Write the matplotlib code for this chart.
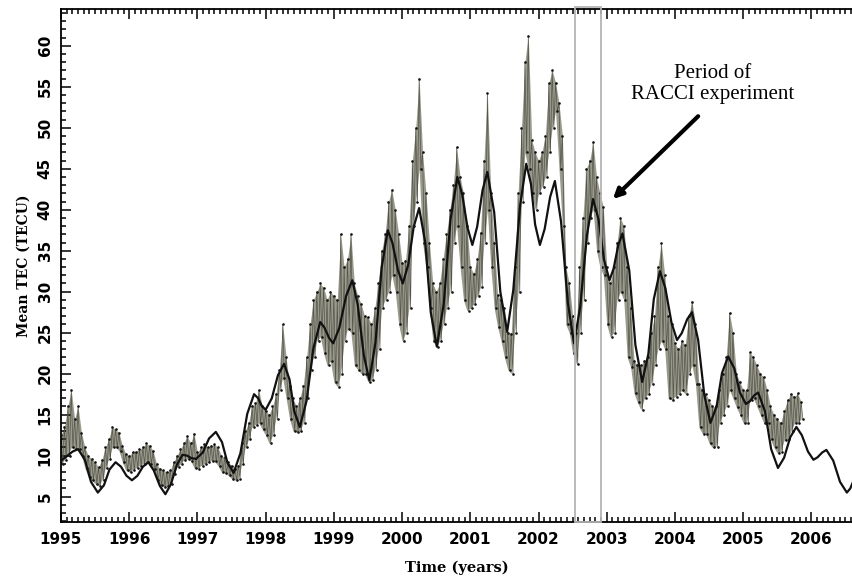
import numpy as np
import matplotlib
matplotlib.use('Agg')
import matplotlib.pyplot as plt
from matplotlib.patches import Rectangle
from matplotlib.ticker import MultipleLocator

# Observed daily mean TEC, read as an upper / lower envelope every 0.05 yr
obs_start = 1995.0
obs_step = 0.05
tec_upper = [
    12.5, 13.5, 16.0, 18.0, 14.5, 16.0, 12.8, 11.0, 10.0, 9.6, 9.2, 8.6, 9.5, 11.0, 12.0, 13.5, 13.2, 12.8, 11.2, 10.2,
    10.0, 10.4, 10.5, 10.8, 11.0, 11.5, 11.2, 10.6, 9.0, 8.4, 8.2, 8.0, 8.2, 9.2, 10.0, 10.8, 11.5, 12.4, 11.5, 12.7,
    10.4, 11.0, 11.4, 11.0, 11.2, 11.4, 11.0, 10.0, 9.8, 9.2, 8.8, 8.4, 8.8, 11.5, 13.0, 14.0, 16.0, 16.4, 18.0, 16.0,
    15.5, 15.0, 16.0, 17.5, 20.5, 26.0, 22.0, 18.5, 17.0, 16.0, 17.0, 18.5, 22.0, 26.0, 29.0, 30.0, 31.0, 30.5, 29.0, 30.0,
    29.5, 29.0, 37.0, 33.0, 34.0, 37.0, 31.0, 29.5, 28.5, 27.0, 26.9, 26.0, 28.0, 31.0, 35.0, 37.0, 41.0, 42.4, 40.0, 37.0,
    33.5, 33.8, 38.0, 46.0, 50.0, 56.0, 47.0, 42.0, 36.0, 31.0, 30.0, 31.0, 34.0, 37.0, 40.0, 43.0, 47.6, 44.0, 42.0, 38.0,
    33.0, 32.2, 34.0, 37.2, 46.0, 54.2, 42.0, 36.0, 29.6, 29.0, 28.0, 25.0, 24.9, 33.0, 42.0, 50.0, 58.0, 61.2, 48.5, 47.0,
    46.0, 47.0, 49.0, 55.4, 57.0, 55.5, 53.0, 49.0, 33.0, 31.0, 27.0, 25.0, 33.0, 39.0, 45.0, 46.0, 48.2, 44.0, 42.0, 40.3,
    33.0, 31.0, 33.0, 36.0, 39.0, 38.0, 33.0, 28.0, 21.6, 21.0, 21.0, 21.6, 22.0, 25.0, 27.0, 33.0, 35.9, 32.0, 27.0, 26.0,
    23.7, 23.0, 24.0, 23.5, 27.0, 28.8, 26.0, 18.8, 18.0, 17.5, 16.8, 16.0, 16.0, 18.0, 20.0, 22.0, 27.4, 25.0, 20.0, 19.0,
    18.0, 18.0, 22.6, 22.0, 21.0, 20.0, 19.6, 18.0, 16.0, 15.0, 14.5, 14.0, 15.5, 16.8, 17.5, 17.2, 17.6, 16.5,
]
tec_lower = [
    9.0, 9.5, 10.0, 11.0, 10.8, 10.8, 10.0, 8.5, 7.4, 7.0, 6.6, 6.3, 7.0, 8.5, 9.6, 11.0, 11.0, 10.6, 9.2, 8.2,
    8.0, 8.3, 8.5, 8.8, 9.0, 9.2, 9.0, 8.4, 7.0, 6.4, 6.2, 6.3, 6.6, 7.8, 8.6, 9.0, 9.5, 9.6, 9.4, 8.5,
    8.4, 8.8, 9.0, 9.2, 9.4, 9.3, 8.8, 8.0, 7.9, 7.6, 7.2, 7.0, 7.2, 9.0, 11.0, 12.0, 13.5, 13.8, 14.0, 13.2,
    12.5, 11.5, 12.5, 14.5, 18.0, 19.5, 17.0, 14.5, 13.0, 12.9, 13.0, 14.0, 17.0, 20.5, 22.0, 24.0, 24.5, 22.5, 21.0, 21.5,
    19.0, 18.4, 20.0, 24.0, 25.5, 25.0, 21.0, 20.5, 20.0, 20.0, 19.0, 19.2, 20.5, 23.0, 28.0, 29.0, 30.0, 32.0, 30.0, 26.0,
    24.0, 25.0, 28.0, 38.0, 41.0, 45.0, 36.0, 33.0, 28.0, 24.0, 23.3, 24.0, 26.0, 28.0, 30.0, 36.0, 38.0, 33.0, 29.0, 27.7,
    28.0, 28.5, 29.5, 30.6, 36.0, 40.0, 33.0, 28.0, 25.7, 24.0, 22.0, 20.5, 20.0, 25.0, 30.0, 41.0, 47.0, 45.0, 42.0, 40.0,
    42.0, 42.8, 44.0, 47.0, 50.0, 52.0, 45.0, 38.0, 26.0, 25.0, 22.5, 21.2, 25.0, 29.0, 36.0, 39.0, 40.0, 35.0, 33.0, 32.0,
    26.0, 24.5, 25.0, 29.0, 30.0, 29.0, 22.0, 20.8, 17.6, 16.5, 15.6, 17.0, 17.5, 18.8, 21.0, 23.0, 24.0, 23.0, 17.0, 16.8,
    17.2, 17.5, 18.0, 17.5, 20.0, 21.0, 18.8, 13.5, 12.7, 12.7, 11.5, 11.0, 11.1, 14.0, 15.0, 16.0, 18.0, 17.0, 15.9, 15.0,
    14.0, 14.0, 16.8, 17.0, 16.0, 15.0, 14.0, 14.0, 12.0, 11.0, 10.3, 10.5, 11.9, 12.0, 13.0, 14.0, 14.0, 14.5,
]

# Smooth model curve (time in years, TEC)
model_t = [
    1995.00, 1995.08, 1995.17, 1995.25, 1995.35, 1995.44, 1995.54, 1995.63, 1995.71, 1995.80,
    1995.88, 1995.96, 1996.04, 1996.12, 1996.20, 1996.28, 1996.36, 1996.45, 1996.53, 1996.61,
    1996.70, 1996.78, 1996.85, 1996.91, 1996.98, 1997.08, 1997.17, 1997.27, 1997.36, 1997.44,
    1997.53, 1997.63, 1997.73, 1997.83, 1997.89, 1997.94, 1998.00, 1998.09, 1998.18, 1998.27,
    1998.35, 1998.42, 1998.50, 1998.60, 1998.70, 1998.80, 1998.86, 1998.93, 1998.99, 1999.08,
    1999.18, 1999.27, 1999.35, 1999.44, 1999.52, 1999.61, 1999.70, 1999.79, 1999.86, 1999.94,
    2000.01, 2000.09, 2000.17, 2000.25, 2000.34, 2000.42, 2000.51, 2000.61, 2000.71, 2000.81,
    2000.88, 2000.96, 2001.03, 2001.10, 2001.18, 2001.25, 2001.35, 2001.44, 2001.54, 2001.63,
    2001.73, 2001.82, 2001.89, 2001.95, 2002.02, 2002.09, 2002.17, 2002.24, 2002.33, 2002.43,
    2002.52, 2002.61, 2002.71, 2002.80, 2002.88, 2002.96, 2003.04, 2003.10, 2003.17, 2003.23,
    2003.33, 2003.42, 2003.52, 2003.61, 2003.69, 2003.78, 2003.86, 2003.95, 2004.03, 2004.10,
    2004.18, 2004.25, 2004.34, 2004.43, 2004.52, 2004.61, 2004.69, 2004.78, 2004.87, 2004.95,
    2005.04, 2005.10, 2005.16, 2005.22, 2005.32, 2005.41, 2005.51, 2005.60, 2005.69, 2005.78,
    2005.86, 2005.95, 2006.03, 2006.09, 2006.16, 2006.22, 2006.32, 2006.42, 2006.52, 2006.57,
    2006.62,
]
model_tec = [
    9.4, 9.9, 10.5, 10.8, 9.5, 6.8, 5.5, 6.4, 8.3, 9.2,
    8.65, 7.55, 7.0, 7.55, 8.65, 9.2, 8.2, 6.3, 5.3, 6.5,
    8.9, 10.1, 10.0, 9.7, 9.6, 10.4, 12.1, 12.9, 11.65, 9.15,
    7.9, 10.3, 15.1, 17.5, 17.0, 16.1, 15.6, 17.0, 19.8, 21.2,
    19.3, 15.4, 13.5, 16.7, 23.1, 26.3, 25.65, 24.35, 23.7, 25.6,
    29.5, 31.4, 28.4, 22.2, 19.2, 23.8, 32.9, 37.5, 35.9, 32.6,
    31.0, 33.3, 37.9, 40.2, 36.0, 27.5, 23.3, 28.5, 38.8, 44.0,
    41.9, 37.8, 35.7, 37.9, 42.4, 44.6, 39.7, 30.0, 25.1, 30.2,
    40.5, 45.6, 43.1, 38.2, 35.7, 37.65, 41.55, 43.5, 38.55, 28.65,
    23.7, 28.1, 36.9, 41.3, 38.8, 33.9, 31.4, 32.8, 35.7, 37.1,
    32.6, 23.5, 19.0, 22.4, 29.1, 32.5, 30.4, 26.2, 24.1, 24.95,
    26.65, 27.5, 24.1, 17.4, 14.0, 16.0, 20.1, 22.1, 20.65, 17.75,
    16.3, 16.65, 17.35, 17.7, 15.4, 10.8, 8.5, 9.75, 12.25, 13.5,
    12.5, 10.5, 9.5, 9.8, 10.4, 10.7, 9.4, 6.8, 5.5, 6.0,
    7.0,
]

racci_period = (2002.54, 2002.91)
years = list(range(1995, 2007))

fig = plt.figure(figsize=(8.53, 5.88), dpi=100)
ax = fig.add_axes([61 / 853, 66 / 588, 792 / 853, 513 / 588])

t_obs = obs_start + obs_step * np.arange(len(tec_upper))
upper = np.array(tec_upper)
lower = np.array(tec_lower)

# band of daily values: grey fill, thin zigzag and black dots at the edges
ax.fill_between(t_obs, lower, upper, color='#9a9a8d', lw=0, zorder=1)
zig_t = np.column_stack([t_obs, t_obs + obs_step / 2]).ravel()
zig_v = np.column_stack([upper, lower]).ravel()
ax.plot(zig_t, zig_v, color='#55554a', lw=0.5, zorder=2)
ax.plot(zig_t, zig_v, ls='none', marker='.', ms=1.8, color='#151515', zorder=3)

# model curve
ax.plot(model_t, model_tec, color='#111111', lw=1.6, zorder=4,
        solid_joinstyle='round', solid_capstyle='round')

# RACCI box
ax.add_patch(Rectangle((racci_period[0], 1.91), racci_period[1] - racci_period[0], 62.8,
                       fill=False, edgecolor='#b4b4b4', lw=1.3, clip_on=False, zorder=5))

ax.annotate('', xy=(2003.09, 41.3), xytext=(2004.34, 51.4),
            arrowprops=dict(arrowstyle='-|>', lw=3, color='black', mutation_scale=14,
                            shrinkA=0, shrinkB=0))
ax.text(2004.55, 55.3, 'Period of\nRACCI experiment', ha='center', va='center',
        fontsize=15, family='Liberation Serif', linespacing=1.15)

ax.set_xlim(1995, 2006.61)
ax.set_ylim(1.91, 64.48)
ax.set_xticks(years)
ax.set_yticks(range(5, 61, 5))
ax.xaxis.set_minor_locator(MultipleLocator(1 / 12))
ax.yaxis.set_minor_locator(MultipleLocator(1))
ax.tick_params(which='both', direction='in', top=True, right=False, width=1.1)
ax.tick_params(which='major', length=7)
ax.tick_params(which='minor', length=3.5)
ax.tick_params(axis='x', pad=7, labelsize=11)
ax.tick_params(axis='y', pad=6, labelsize=11, labelrotation=90)
for lab in ax.get_xticklabels() + ax.get_yticklabels():
    lab.set_fontweight('bold')
for lab in ax.get_yticklabels():
    lab.set_va('center')
ax.spines['right'].set_visible(False)
for s in ['left', 'top', 'bottom']:
    ax.spines[s].set_linewidth(1.3)

ax.set_xlabel('Time (years)', fontsize=10.5, fontweight='bold', family='DejaVu Serif', labelpad=10)
ax.set_ylabel('Mean TEC (TECU)', fontsize=10, fontweight='bold', family='DejaVu Serif', labelpad=5)

fig.savefig('out.png', dpi=100)
